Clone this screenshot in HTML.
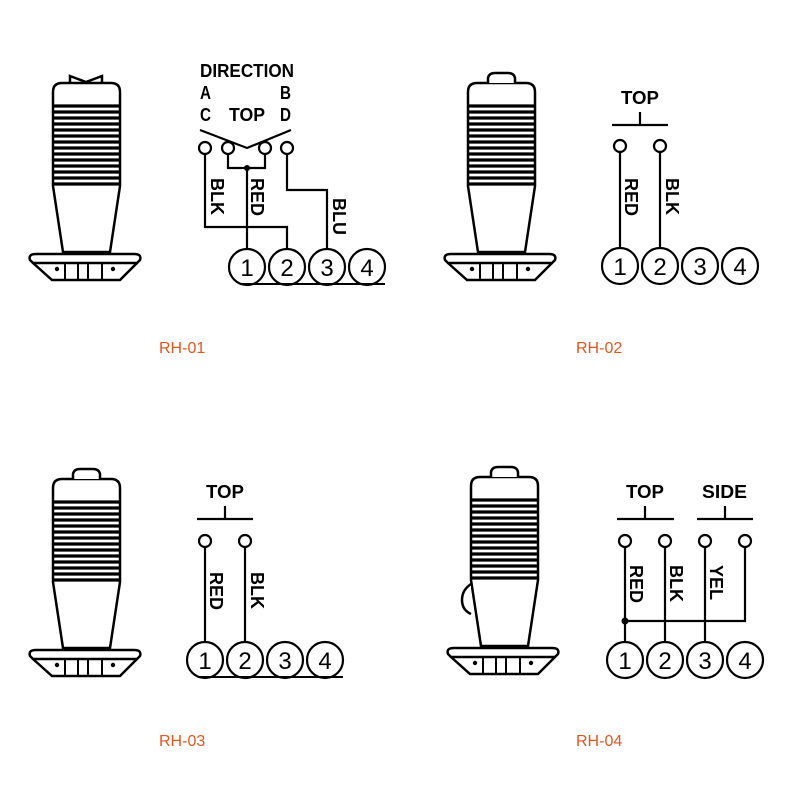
<!DOCTYPE html>
<html><head><style>html,body{margin:0;padding:0;background:#fff}svg{display:block}</style></head><body>
<svg width="800" height="800" viewBox="0 0 800 800" xmlns="http://www.w3.org/2000/svg">
<defs>
<g id="h" fill="none" stroke="#000" stroke-width="2.5">
<path d="M53,186 L53,92 Q53,83 62,83 L111,83 Q120,83 120,92 L120,186 L110,252 L63,252 Z" fill="#fff"/>
<g stroke-width="3.2">
<line x1="53" y1="106" x2="120" y2="106"/><line x1="53" y1="112" x2="120" y2="112"/>
<line x1="53" y1="118" x2="120" y2="118"/><line x1="53" y1="124" x2="120" y2="124"/>
<line x1="53" y1="130" x2="120" y2="130"/><line x1="53" y1="136" x2="120" y2="136"/>
<line x1="53" y1="142" x2="120" y2="142"/><line x1="53" y1="148" x2="120" y2="148"/>
<line x1="53" y1="154" x2="120" y2="154"/><line x1="53" y1="160" x2="120" y2="160"/>
<line x1="53" y1="166" x2="120" y2="166"/><line x1="53" y1="172" x2="120" y2="172"/>
<line x1="53" y1="178" x2="120" y2="178"/><line x1="53" y1="184" x2="120" y2="184"/>
</g>
<path d="M36,254 L134,254 Q142,254 140,260 L137,263 L33,263 L30,260 Q28,254 36,254 Z" fill="#fff"/>
<path d="M33,263 L52,280 L120,280 L137,263"/>
<path d="M65,263 V280 M78,263 V280 M88,263 V280 M102,263 V280" stroke-width="2"/>
<circle cx="57" cy="269" r="2.2" fill="#000" stroke="none"/>
<circle cx="113" cy="269" r="2.2" fill="#000" stroke="none"/>
</g>
<g id="dome" fill="#fff" stroke="#000" stroke-width="2.5"><path d="M73,83 L73,78 Q74,73 80,73 L93,73 Q99,73 100,78 L100,83"/></g>
</defs>

<use href="#h"/>
<path d="M70,83 L70,76 L86,82 L102,76 L102,83" fill="none" stroke="#000" stroke-width="2.5"/>
<g transform="translate(415,0)"><use href="#h"/><use href="#dome"/></g>
<g transform="translate(0,396)"><use href="#h"/><use href="#dome"/></g>
<g transform="translate(418,394)"><use href="#h"/><use href="#dome"/>
<path d="M53,190 Q44,196 44,206 Q44,216 53,220" fill="#fff" stroke="#000" stroke-width="2.5"/></g>

<g font-family="Liberation Sans, sans-serif" font-weight="bold" fill="#000" stroke="none">
<text x="247" y="77" font-size="18" text-anchor="middle" textLength="94" lengthAdjust="spacingAndGlyphs">DIRECTION</text>
<text x="200" y="99" font-size="18" textLength="11" lengthAdjust="spacingAndGlyphs">A</text><text x="280" y="99" font-size="18" textLength="11" lengthAdjust="spacingAndGlyphs">B</text>
<text x="200" y="121" font-size="18" textLength="11" lengthAdjust="spacingAndGlyphs">C</text><text x="280" y="121" font-size="18" textLength="11" lengthAdjust="spacingAndGlyphs">D</text>
<text x="229" y="121" font-size="18" textLength="36" lengthAdjust="spacingAndGlyphs">TOP</text>
<text x="621" y="104" font-size="18" textLength="38" lengthAdjust="spacingAndGlyphs">TOP</text>
<text x="206" y="498" font-size="18" textLength="38" lengthAdjust="spacingAndGlyphs">TOP</text>
<text x="626" y="498" font-size="18" textLength="38" lengthAdjust="spacingAndGlyphs">TOP</text>
<text x="702" y="498" font-size="18" textLength="45" lengthAdjust="spacingAndGlyphs">SIDE</text>
</g>

<g fill="none" stroke="#000" stroke-width="2.2">
<path d="M200,130 L247,148 L291,130"/>
<circle cx="205" cy="148" r="6" fill="#fff"/><circle cx="228" cy="148" r="6" fill="#fff"/>
<circle cx="265" cy="148" r="6" fill="#fff"/><circle cx="287" cy="148" r="6" fill="#fff"/>
<path d="M228,154 V168 H265 V154 M247,168 V250"/>
<path d="M205,154 V227 H287 V250"/>
<path d="M287,154 V190 H327 V250"/>
<path d="M612,125 H668 M640,112 V125"/>
<circle cx="620" cy="146" r="6" fill="#fff"/><circle cx="660" cy="146" r="6" fill="#fff"/>
<path d="M620,152 V249 M660,152 V249"/>
<path d="M197,519 H253 M225,506 V519"/>
<circle cx="205" cy="541" r="6" fill="#fff"/><circle cx="245" cy="541" r="6" fill="#fff"/>
<path d="M205,547 V643 M245,547 V643"/>
<path d="M617,519 H674 M645,506 V519 M697,519 H753 M725,506 V519"/>
<circle cx="625" cy="541" r="6" fill="#fff"/><circle cx="665" cy="541" r="6" fill="#fff"/>
<circle cx="705" cy="541" r="6" fill="#fff"/><circle cx="745" cy="541" r="6" fill="#fff"/>
<path d="M625,547 V643 M665,547 V643 M705,547 V643 M745,547 V621 H625"/>
</g>
<circle cx="247" cy="168" r="3" fill="#000"/>
<circle cx="625" cy="621" r="3.5" fill="#000"/>

<g fill="#fff" stroke="#000" stroke-width="2.2">
<circle cx="247" cy="267" r="18"/><circle cx="287" cy="267" r="18"/><circle cx="327" cy="267" r="18"/><circle cx="367" cy="267" r="18"/>
<circle cx="620" cy="266" r="18"/><circle cx="660" cy="266" r="18"/><circle cx="700" cy="266" r="18"/><circle cx="740" cy="266" r="18"/>
<circle cx="205" cy="660" r="18"/><circle cx="245" cy="660" r="18"/><circle cx="285" cy="660" r="18"/><circle cx="325" cy="660" r="18"/>
<circle cx="625" cy="660" r="18"/><circle cx="665" cy="660" r="18"/><circle cx="705" cy="660" r="18"/><circle cx="745" cy="660" r="18"/>
</g>
<path d="M240,284 H385 M198,677 H343" stroke="#000" stroke-width="2"/>

<g font-family="Liberation Sans, sans-serif" font-size="24" text-anchor="middle" fill="#000">
<text x="247" y="276">1</text><text x="287" y="276">2</text><text x="327" y="276">3</text><text x="367" y="276">4</text>
<text x="620" y="275">1</text><text x="660" y="275">2</text><text x="700" y="275">3</text><text x="740" y="275">4</text>
<text x="205" y="669">1</text><text x="245" y="669">2</text><text x="285" y="669">3</text><text x="325" y="669">4</text>
<text x="625" y="669">1</text><text x="665" y="669">2</text><text x="705" y="669">3</text><text x="745" y="669">4</text>
</g>

<g font-family="Liberation Sans, sans-serif" font-weight="bold" font-size="18" fill="#000">
<text transform="translate(211,178) rotate(90)">BLK</text>
<text transform="translate(251,178) rotate(90)">RED</text>
<text transform="translate(333,198) rotate(90)">BLU</text>
<text transform="translate(625,178) rotate(90)">RED</text>
<text transform="translate(666,178) rotate(90)">BLK</text>
<text transform="translate(210,572) rotate(90)">RED</text>
<text transform="translate(251,572) rotate(90)">BLK</text>
<text transform="translate(630,565) rotate(90)">RED</text>
<text transform="translate(670,565) rotate(90)">BLK</text>
<text transform="translate(710,565) rotate(90)">YEL</text>
</g>

<g font-family="Liberation Sans, sans-serif" font-size="16" fill="#e0561f">
<text x="159" y="353">RH-01</text>
<text x="576" y="353">RH-02</text>
<text x="159" y="746">RH-03</text>
<text x="576" y="746">RH-04</text>
</g>
</svg>
</body></html>
